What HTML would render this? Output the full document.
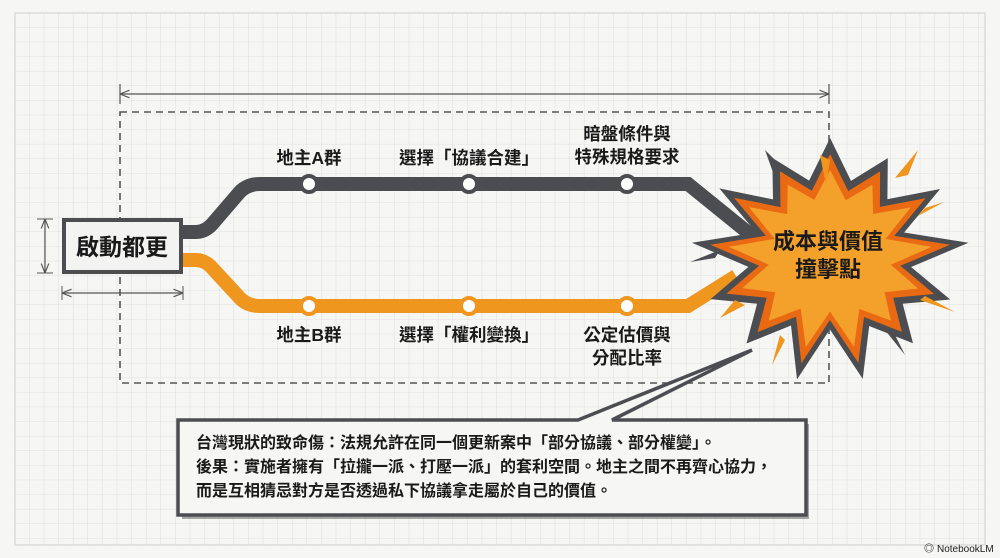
<!DOCTYPE html>
<html><head><meta charset="utf-8"><style>
html,body{margin:0;padding:0;width:1000px;height:558px;overflow:hidden;background:#f6f6f5}
svg{display:block}
text{font-family:"Liberation Sans","Noto Sans CJK TC",sans-serif;font-weight:bold;fill:#1a1a1a}
</style></head><body>
<svg id="s" width="1000" height="558" viewBox="0 0 1000 558" xmlns="http://www.w3.org/2000/svg">
<defs>
<pattern id="g" x="15" y="13" width="14.6" height="14.6" patternUnits="userSpaceOnUse">
<path d="M14.6 0V14.6H0" fill="none" stroke="#d9d9d9" stroke-width="0.8"/>
</pattern>
<marker id="ar" viewBox="0 0 10 10" refX="10" refY="5" markerWidth="8" markerHeight="8" orient="auto-start-reverse"><path d="M0 1L10 5L0 9" fill="none" stroke="#555" stroke-width="1.2"/></marker>
</defs>
<rect x="15" y="13" width="970" height="532" fill="url(#g)" stroke="#cfcfcf"/>
<line x1="120" y1="94" x2="829" y2="94" stroke="#555" stroke-width="1.2" marker-start="url(#ar)" marker-end="url(#ar)"/>
<line x1="120" y1="84" x2="120" y2="104" stroke="#555" stroke-width="1.2"/>
<line x1="829" y1="84" x2="829" y2="104" stroke="#555" stroke-width="1.2"/>
<line x1="45" y1="219" x2="45" y2="273" stroke="#555" stroke-width="1.2" marker-start="url(#ar)" marker-end="url(#ar)"/>
<line x1="37" y1="219" x2="53" y2="219" stroke="#555"/><line x1="37" y1="273" x2="53" y2="273" stroke="#555"/>
<line x1="62" y1="293" x2="183" y2="293" stroke="#555" stroke-width="1.2" marker-start="url(#ar)" marker-end="url(#ar)"/>
<line x1="62" y1="286" x2="62" y2="300" stroke="#555"/><line x1="183" y1="286" x2="183" y2="300" stroke="#555"/>
<rect x="120" y="112" width="709" height="271" fill="none" stroke="#555" stroke-width="1.6" stroke-dasharray="7 5"/>
<path d="M180 232H196Q206 232 214 222L238 194Q246 184 260 184H688L762 244" fill="none" stroke="#4b4d50" stroke-width="14"/>
<path d="M180 260H196Q206 260 214 270L238 296Q246 306 260 306H688L736 276" fill="none" stroke="#ef961e" stroke-width="14"/>
<g fill="#fff" stroke-width="4">
<circle cx="309" cy="184" r="8" stroke="#4b4d50"/><circle cx="469" cy="184" r="8" stroke="#4b4d50"/><circle cx="627" cy="184" r="8" stroke="#4b4d50"/>
<circle cx="309" cy="306" r="8" stroke="#ef961e"/><circle cx="469" cy="306" r="8" stroke="#ef961e"/><circle cx="627" cy="306" r="8" stroke="#ef961e"/>
</g>
<rect x="64" y="220" width="117" height="52" fill="#f3f3f1" stroke="#4b4d50" stroke-width="4"/>
<text x="122" y="255" font-size="23" text-anchor="middle">啟動都更</text>
<g font-size="17.5" text-anchor="middle">
<text x="309" y="164">地主A群</text>
<text x="469" y="164">選擇「協議合建」</text>
<text x="627" y="140">暗盤條件與</text>
<text x="627" y="163">特殊規格要求</text>
<text x="309" y="341">地主B群</text>
<text x="469" y="341">選擇「權利變換」</text>
<text x="627" y="341">公定估價與</text>
<text x="627" y="364">分配比率</text>
</g>
<g id="burst"></g>
<g>
<polygon points="765,150 775,178 783,168" fill="#4b4d50"/>
<polygon points="820,155 826,185 830,160" fill="#ef961e"/>
<polygon points="918,150 895,178 908,175" fill="#ef961e"/>
<polygon points="944,202 918,216 925,208" fill="#ef961e"/>
<polygon points="690,262 715,258 720,250" fill="#4b4d50"/>
<polygon points="735,300 720,318 745,305" fill="#ef961e"/>
<polygon points="920,300 955,312 925,296" fill="#ef961e"/>
<polygon points="780,335 772,365 785,340" fill="#ef961e"/>
<polygon points="885,330 905,355 895,335" fill="#4b4d50"/>
</g>
<text x="828" y="249" font-size="22" text-anchor="middle">成本與價值</text>
<text x="828" y="277" font-size="22" text-anchor="middle">撞擊點</text>
<rect x="182" y="424" width="627" height="95" fill="#555" opacity="0.5"/>
<path d="M178 420H578L752 350L612 420H806V515H178Z" fill="#f6f6f4" stroke="#4b4d50" stroke-width="3.5" stroke-linejoin="miter"/>
<g font-size="16">
<text x="196" y="448">台灣現狀的致命傷：法規允許在同一個更新案中「部分協議、部分權變」。</text>
<text x="196" y="472">後果：實施者擁有「拉攏一派、打壓一派」的套利空間。地主之間不再齊心協力，</text>
<text x="196" y="496">而是互相猜忌對方是否透過私下協議拿走屬於自己的價值。</text>
</g>
<text x="937" y="552" font-size="10" style="font-weight:normal">NotebookLM</text>
<text x="924" y="552" font-size="10">◎</text>
</svg>
<script>
function star(cx,cy,n,ro,ri,rx,off){let p=[];for(let i=0;i<2*n;i++){let a=Math.PI*i/n+off;let r=(i%2?ri:ro)*(1+0.06*Math.sin(i*2.3));p.push((cx+Math.cos(a)*r*rx).toFixed(1)+','+(cy+Math.sin(a)*r).toFixed(1));}return p.join(' ');}
var g=document.getElementById('burst');
g.innerHTML='<polygon points="'+star(830,258,13,120,76,1.1,-1.57)+'" fill="#4b4d50"/>'+
'<polygon points="'+star(830,258,13,104,66,1.1,-1.57)+'" fill="#e96a12"/>'+
'<polygon points="'+star(830,258,13,88,57,1.1,-1.57)+'" fill="#f4a12c"/>';
</script>
</body></html>
